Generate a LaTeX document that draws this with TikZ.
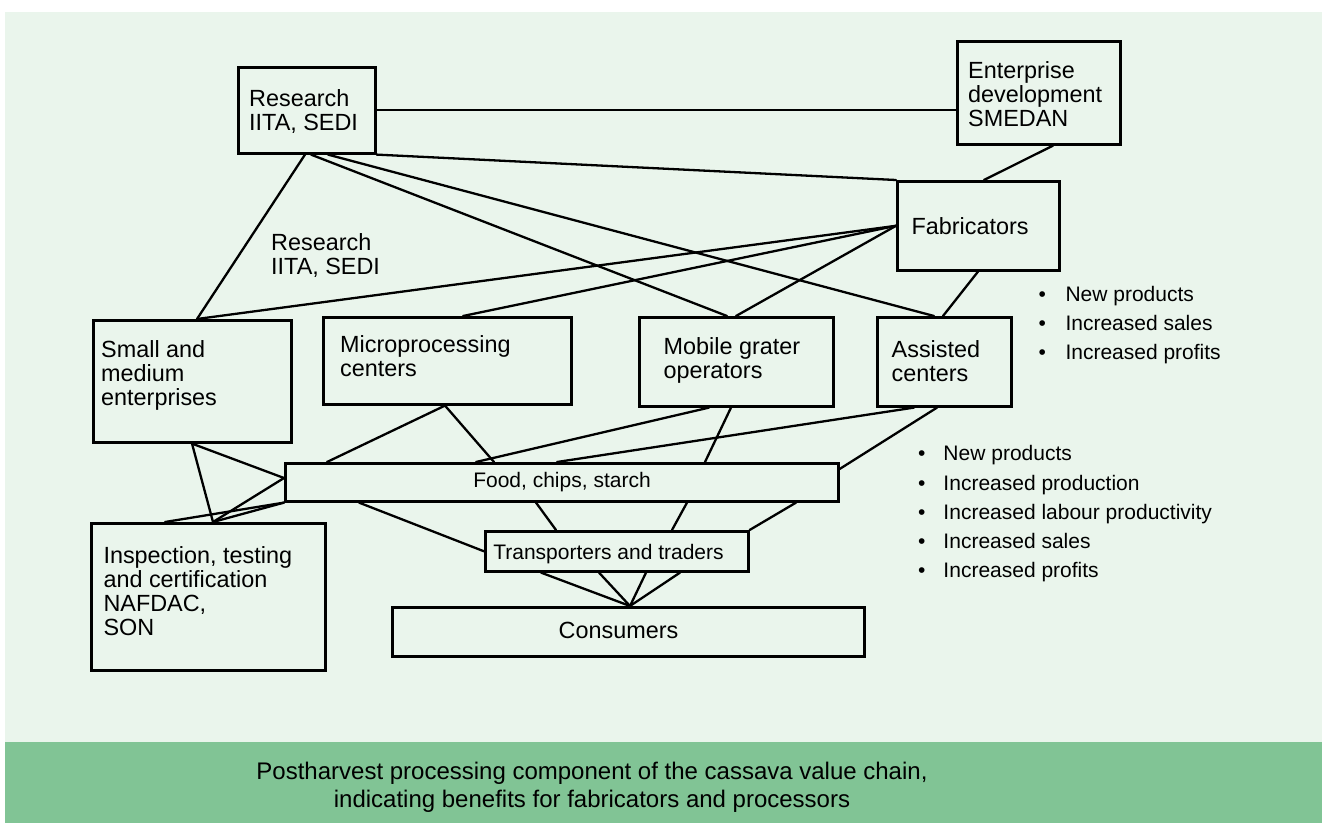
\documentclass[tikz,border=0pt]{standalone}
\usepackage{fontspec}
\setmainfont{Liberation Sans}
\definecolor{bglight}{RGB}{234,245,236}
\definecolor{bgdark}{RGB}{129,196,149}
\begin{document}
\begin{tikzpicture}[x=1bp,y=-1bp,
  boxst/.style={draw=black,line width=2.6bp,inner sep=0pt,anchor=north west},
  conn/.style={draw=black,line width=2.3bp,line cap=round},
  btext/.style={inner sep=0pt,anchor=north west,align=left,font=\fontsize{23.4bp}{24bp}\selectfont},
  stext/.style={inner sep=0pt,anchor=base,font=\fontsize{21bp}{24bp}\selectfont},
  blist/.style={inner sep=0pt,anchor=north west,align=left,font=\fontsize{21bp}{29.2bp}\selectfont},
  captext/.style={inner sep=0pt,anchor=north,align=center,font=\fontsize{24bp}{27.5bp}\selectfont}]
\useasboundingbox (0,0) rectangle (1322,823);
\fill[white] (0,0) rectangle (1322,823);
\fill[bglight] (5,12) rectangle (1322,742);
\fill[bgdark] (5,742) rectangle (1322,823);

% boxes
\node[boxst,minimum width=137bp,minimum height=86bp] (res) at (237,66) {};
\node[boxst,minimum width=163bp,minimum height=103bp] (ent) at (956,40) {};
\node[boxst,minimum width=162bp,minimum height=89bp] (fab) at (896,180) {};
\node[boxst,minimum width=134bp,minimum height=89bp] (asst) at (876,316) {};
\node[boxst,minimum width=194bp,minimum height=89bp] (mob) at (638,316) {};
\node[boxst,minimum width=248bp,minimum height=87bp] (mic) at (322,316) {};
\node[boxst,minimum width=198bp,minimum height=122bp] (sme) at (92,319) {};
\node[boxst,minimum width=553bp,minimum height=38bp] (food) at (284,462) {};
\node[boxst,minimum width=263bp,minimum height=40bp] (trans) at (484,530) {};
\node[boxst,minimum width=472bp,minimum height=49bp] (cons) at (391,606) {};
\node[boxst,minimum width=234bp,minimum height=147bp] (insp) at (90,522) {};

% texts
\node[btext] (resT) at (249,89.5) {Research\\IITA, SEDI};
\node[btext] (entT) at (968,61.5) {Enterprise\\development\\SMEDAN};
\node[btext] (fabT) at (911.3,217.3) {Fabricators};
\node[btext] (asstT) at (891.5,340.5) {Assisted\\centers};
\node[btext] (mobT) at (663.4,337.3) {Mobile grater\\operators};
\node[btext] (micT) at (340,335) {Microprocessing\\centers};
\node[btext] (smeT) at (101,340) {Small and\\medium\\enterprises};
\node[btext] (inspT) at (103.3,546.7) {Inspection, testing\\and certification\\NAFDAC,\\SON};
\node[btext] (lblT) at (271,233.3) {Research\\IITA, SEDI};
\node[stext] (foodT) at (562,487.5) {Food, chips, starch};
\node[stext] (transT) at (608.5,559.2) {Transporters and traders};
\node[stext,font=\fontsize{23.4bp}{24bp}\selectfont] (consT) at (618.5,638.4) {Consumers};

\node[blist] (list1) at (1038.3,286) {\makebox[27bp][l]{•}New products\\\makebox[27bp][l]{•}Increased sales\\\makebox[27bp][l]{•}Increased profits};
\node[blist] (list2) at (918,445.5) {\makebox[25.3bp][l]{•}New products\\\makebox[25.3bp][l]{•}Increased production\\\makebox[25.3bp][l]{•}Increased labour productivity\\\makebox[25.3bp][l]{•}Increased sales\\\makebox[25.3bp][l]{•}Increased profits};

\node[captext] (cap) at (592,762) {Postharvest processing component of the cassava value chain,\\indicating benefits for fabricators and processors};

% connection points
\coordinate (smeTop) at ([xshift=105bp]sme.north west);
\coordinate (inspTop) at ([xshift=123bp]insp.north west);
\coordinate (foodW) at ([yshift=-16bp]food.north west);
\coordinate (consTop) at ([xshift=239bp]cons.north west);

% upper connectors
\draw[conn] (res.east) -- (res.east -| ent.west);
\draw[conn] (res.south east) -- (fab.north west);
\draw[conn] ([xshift=68bp]res.south west) -- (smeTop);
\draw[conn] ([xshift=74bp]res.south west) -- ([xshift=89bp]mob.north west);
\draw[conn] ([xshift=91bp]res.south west) -- ([xshift=58bp]asst.north west);
\draw[conn] ([xshift=97bp]ent.south west) -- ([xshift=88bp]fab.north west);
\draw[conn] (fab.west) -- (smeTop);
\draw[conn] (fab.west) -- ([xshift=141bp]mic.north west);
\draw[conn] (fab.west) -- ([xshift=98bp]mob.north west);
\draw[conn] ([xshift=82bp]fab.south west) -- ([xshift=67bp]asst.north west);

% lower connectors
\draw[conn] ([xshift=123bp]mic.south west) -- ([xshift=43bp]food.north west);
\draw[conn] ([xshift=123bp]mic.south west) -- ([xshift=210bp]food.north west);
\draw[conn] ([xshift=71bp]mob.south west) -- ([xshift=192bp]food.north west);
\draw[conn] ([xshift=93bp]mob.south west) -- ([xshift=421bp]food.north west);
\draw[conn] ([xshift=38bp]asst.south west) -- ([xshift=273bp]food.north west);
\draw[conn] ([xshift=61bp]asst.south west) -- ([yshift=-7bp]food.north east);
\draw[conn] ([xshift=100bp]sme.south west) -- (foodW);
\draw[conn] ([xshift=100bp]sme.south west) -- (inspTop);
\draw[conn] (foodW) -- (inspTop);
\draw[conn] (food.south west) -- ([xshift=75bp]insp.north west);
\draw[conn] (food.south west) -- (inspTop);
\draw[conn] ([xshift=75bp]food.south west) -- (trans.west);
\draw[conn] ([xshift=252bp]food.south west) -- ([xshift=72bp]trans.north west);
\draw[conn] ([xshift=403bp]food.south west) -- ([xshift=188bp]trans.north west);
\draw[conn] ([xshift=512bp]food.south west) -- (trans.north east);
\draw[conn] ([xshift=57bp]trans.south west) -- (consTop);
\draw[conn] ([xshift=115bp]trans.south west) -- (consTop);
\draw[conn] ([xshift=162bp]trans.south west) -- (consTop);
\draw[conn] ([xshift=196bp]trans.south west) -- (consTop);
\end{tikzpicture}
\end{document}
